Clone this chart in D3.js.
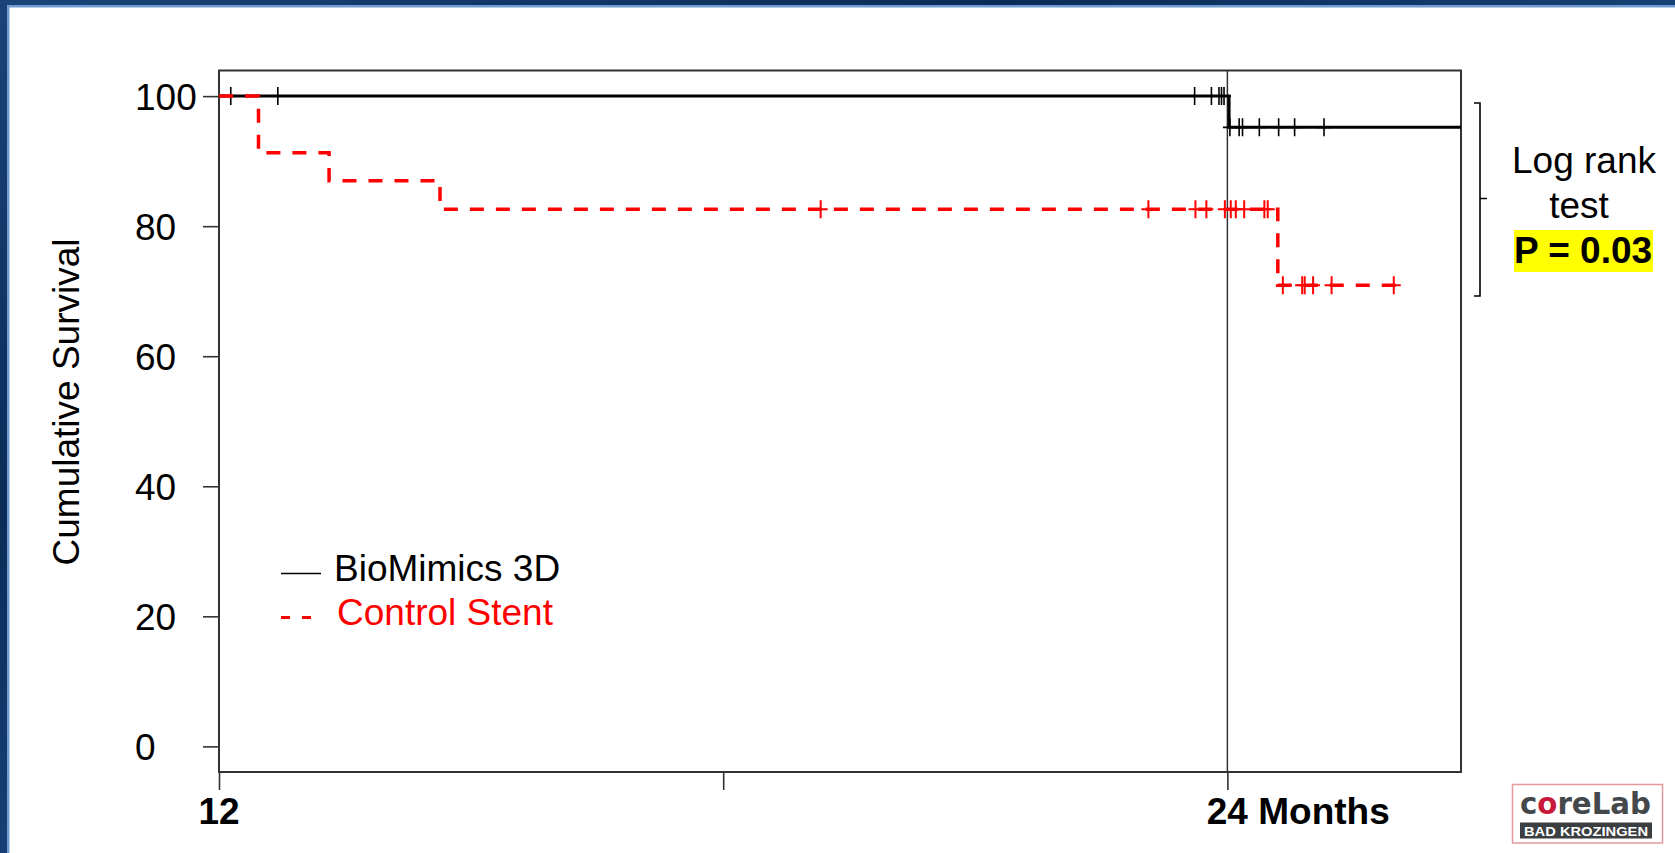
<!DOCTYPE html>
<html>
<head>
<meta charset="utf-8">
<script src="https://cdn.jsdelivr.net/npm/d3@7"></script>
<style>
  body { margin: 0; background: #0d2e5c; }
  svg { display: block; font-family: "Liberation Sans", Arial, sans-serif; }
</style>
</head>
<body>
<script>
// Kaplan-Meier data (months, % survival)
var bioMonths = [12, 24.02, 26.78];
var bioSurvival = [100, 95.2, 95.2];
var bioCensorMonths = [12.14, 12.70, 23.61, 23.81, 23.90, 23.93, 23.96,
                       24.03, 24.14, 24.18, 24.38, 24.61, 24.80, 25.15];

var ctrlMonths = [12, 12.47, 13.31, 14.63, 24.60, 26.07];
var ctrlSurvival = [100, 91.3, 87.0, 82.6, 70.9, 70.9];
var ctrlCensorMonths = [19.16, 23.06, 23.62, 23.75, 23.97, 24.04, 24.10, 24.20, 24.44, 24.48,
                        24.66, 24.89, 24.92, 25.02, 25.24, 25.98];

var yTicks = [0, 20, 40, 60, 80, 100];
var xTicks = [12, 18, 24];
var xTickLabels = ["12", "", "24 Months"];
var seriesNames = ["BioMimics 3D", "Control Stent"];

var width = 1675, height = 853;
var margin = {top: 70.5, right: 214, bottom: 81, left: 219};
var fs = 37;

var svg = d3.select("body").append("svg")
    .attr("width", width)
    .attr("height", height);

// blue slide frame
var defs = svg.append("defs");
var grad = defs.append("linearGradient").attr("id", "bg").attr("x1", 0).attr("y1", 0).attr("x2", 1).attr("y2", 1);
grad.append("stop").attr("offset", "0%").attr("stop-color", "#1a4478");
grad.append("stop").attr("offset", "30%").attr("stop-color", "#0b2c58");
grad.append("stop").attr("offset", "60%").attr("stop-color", "#1c4a82");
grad.append("stop").attr("offset", "100%").attr("stop-color", "#0b2c58");
svg.append("rect").attr("width", width).attr("height", height).attr("fill", "url(#bg)");
svg.append("rect").attr("x", 7).attr("y", 5).attr("width", width).attr("height", height).attr("fill", "#6f9bd0");
svg.append("rect").attr("x", 9.5).attr("y", 7.5).attr("width", width).attr("height", height).attr("fill", "#ffffff");

var x = d3.scaleLinear().domain([12, 26.78]).range([margin.left, width - margin.right]);
var y = d3.scaleLinear().domain([-3.94, 103.94]).range([height - margin.bottom, margin.top]);

var g = svg.append("g");

// y axis
var yAxis = g.append("g")
    .attr("transform", "translate(" + margin.left + ",0)")
    .call(d3.axisLeft(y).tickValues(yTicks).tickSize(16).tickFormat(d3.format("d")));
yAxis.select(".domain").remove();
yAxis.selectAll("line").attr("stroke", "#333").attr("stroke-width", 1.6);
yAxis.selectAll("text")
    .attr("x", -84)
    .attr("dy", "0.36em")
    .attr("text-anchor", "start")
    .attr("fill", "#000")
    .style("font-size", fs + "px")
    .style("font-family", "'Liberation Sans', Arial, sans-serif");

// x axis
var xAxis = g.append("g")
    .attr("transform", "translate(0," + (height - margin.bottom) + ")")
    .call(d3.axisBottom(x).tickValues(xTicks).tickSize(18).tickFormat(""));
xAxis.select(".domain").remove();
xAxis.selectAll("line").attr("stroke", "#333").attr("stroke-width", 1.6);

xTicks.forEach(function(t, i) {
  if (!xTickLabels[i]) return;
  var lbl = g.append("text")
      .attr("y", 824)
      .attr("font-size", fs)
      .attr("font-weight", "bold")
      .text(xTickLabels[i]);
  // centre the number part on its tick
  var num = xTickLabels[i].split(" ")[0];
  var tmp = g.append("text").attr("font-size", fs).attr("font-weight", "bold").text(num);
  var w = tmp.node().getComputedTextLength();
  tmp.remove();
  lbl.attr("x", x(t) - w / 2);
});

// frame
g.append("rect")
    .attr("x", x.range()[0]).attr("y", margin.top)
    .attr("width", x.range()[1] - x.range()[0])
    .attr("height", y.range()[0] - margin.top)
    .attr("fill", "none").attr("stroke", "#333").attr("stroke-width", 2);

// 24 month reference line
g.append("line")
    .attr("x1", x(24)).attr("x2", x(24))
    .attr("y1", margin.top).attr("y2", y.range()[0])
    .attr("stroke", "#333").attr("stroke-width", 1.5);

// y title
svg.append("text")
    .attr("transform", "translate(79,402) rotate(-90)")
    .attr("text-anchor", "middle")
    .attr("font-size", fs)
    .text("Cumulative Survival");

var step = d3.line()
    .x(function(d) { return x(d[0]); })
    .y(function(d) { return y(d[1]); })
    .curve(d3.curveStepAfter);

function survAt(months, surv, t) {
  var s = surv[0];
  for (var i = 0; i < months.length; i++) if (months[i] <= t) s = surv[i];
  return s;
}

var bioData = bioMonths.map(function(m, i) { return [m, bioSurvival[i]]; });
var ctrlData = ctrlMonths.map(function(m, i) { return [m, ctrlSurvival[i]]; });

g.append("path")
    .attr("d", step(bioData))
    .attr("fill", "none").attr("stroke", "#000").attr("stroke-width", 3);

function censor(sel, months, surv, times, color, sw) {
  sel.selectAll(null).data(times).enter().append("path")
      .attr("d", function(t) {
        var cx = x(t), cy = y(survAt(months, surv, t));
        return "M" + cx + "," + (cy - 9) + "V" + (cy + 9) + "M" + (cx - 7) + "," + cy + "H" + (cx + 7);
      })
      .attr("stroke", color).attr("stroke-width", sw).attr("fill", "none");
}
censor(g, bioMonths, bioSurvival, bioCensorMonths, "#000", 1.6);

g.append("path")
    .attr("d", step(ctrlData))
    .attr("fill", "none").attr("stroke", "#ff0000").attr("stroke-width", 3.5)
    .attr("stroke-dasharray", "14,12");
censor(g, ctrlMonths, ctrlSurvival, ctrlCensorMonths, "#ff0000", 2);

// legend
var leg = svg.append("g");
leg.append("line").attr("x1", 281).attr("x2", 321).attr("y1", 573.5).attr("y2", 573.5)
    .attr("stroke", "#000").attr("stroke-width", 1.3);
leg.append("text").attr("x", 334).attr("y", 581).attr("font-size", fs).text(seriesNames[0]);
leg.append("line").attr("x1", 281).attr("x2", 311).attr("y1", 617.5).attr("y2", 617.5)
    .attr("stroke", "#ff0000").attr("stroke-width", 3).attr("stroke-dasharray", "9,12");
leg.append("text").attr("x", 337).attr("y", 625).attr("font-size", fs).attr("fill", "#ff0000").text(seriesNames[1]);

// log rank bracket
var br = svg.append("g");
br.append("path").attr("d", "M1474,103H1480V296H1474M1480,198.5H1487")
    .attr("fill", "none").attr("stroke", "#000").attr("stroke-width", 1.6);
br.append("text").attr("x", 1584).attr("y", 173).attr("text-anchor", "middle").attr("font-size", fs).text("Log rank");
br.append("text").attr("x", 1579).attr("y", 218).attr("text-anchor", "middle").attr("font-size", fs).text("test");
br.append("rect").attr("x", 1514).attr("y", 230).attr("width", 139).attr("height", 42).attr("fill", "#ffff00");
br.append("text").attr("x", 1583).attr("y", 263).attr("text-anchor", "middle").attr("font-size", fs)
    .attr("font-weight", "bold").text("P = 0.03");

// coreLab logo
var logo = svg.append("g");
logo.append("rect").attr("x", 1512.5).attr("y", 784.5).attr("width", 150).attr("height", 58.5)
    .attr("fill", "#fff").attr("stroke", "#e49a9a").attr("stroke-width", 1.5);
var lt = logo.append("text").attr("x", 1520).attr("y", 814).attr("font-size", 30)
    .attr("font-family", "'DejaVu Sans', sans-serif").attr("font-weight", "bold")
    .attr("textLength", 131).attr("lengthAdjust", "spacingAndGlyphs").attr("fill", "#44484b");
lt.append("tspan").text("c");
lt.append("tspan").attr("fill", "#c8193c").text("o");
lt.append("tspan").text("reLab");
logo.append("rect").attr("x", 1520).attr("y", 822.5).attr("width", 132).attr("height", 16).attr("fill", "#3b3f42");
logo.append("text").attr("x", 1586).attr("y", 835.5).attr("text-anchor", "middle").attr("font-size", 12.5)
    .attr("font-weight", "bold").attr("fill", "#fff").attr("textLength", 124).attr("lengthAdjust", "spacingAndGlyphs")
    .text("BAD KROZINGEN");
</script>
</body>
</html>
